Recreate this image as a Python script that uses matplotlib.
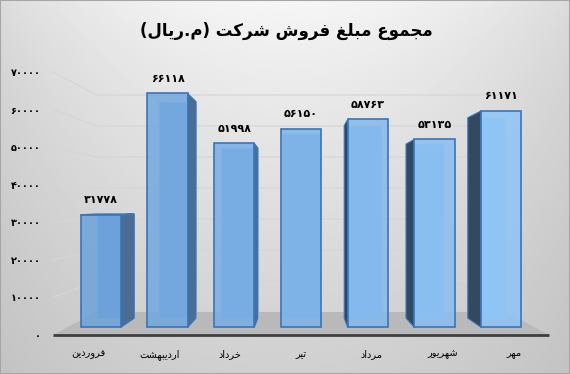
import numpy as np
import matplotlib.pyplot as plt
from matplotlib.patches import Polygon, Rectangle

# Data
months = ['فروردین', 'اردیبهشت', 'خرداد', 'تیر', 'مرداد', 'شهریور', 'مهر']
sales = [31778, 66118, 51998, 56150, 58763, 53135, 61171]
yticks = [0, 10000, 20000, 30000, 40000, 50000, 60000, 70000]
title = 'مجموع مبلغ فروش شرکت (م.ریال)'

# Arabic/Persian letter forms: isolated, final, initial, medial
FORMS = {
    'ا': ('\uFE8D', '\uFE8E', None, None),
    'ب': ('\uFE8F', '\uFE90', '\uFE91', '\uFE92'),
    'ت': ('\uFE95', '\uFE96', '\uFE97', '\uFE98'),
    'ج': ('\uFE9D', '\uFE9E', '\uFE9F', '\uFEA0'),
    'خ': ('\uFEA5', '\uFEA6', '\uFEA7', '\uFEA8'),
    'د': ('\uFEA9', '\uFEAA', None, None),
    'ر': ('\uFEAD', '\uFEAE', None, None),
    'ش': ('\uFEB5', '\uFEB6', '\uFEB7', '\uFEB8'),
    'ع': ('\uFEC9', '\uFECA', '\uFECB', '\uFECC'),
    'غ': ('\uFECD', '\uFECE', '\uFECF', '\uFED0'),
    'ف': ('\uFED1', '\uFED2', '\uFED3', '\uFED4'),
    'ل': ('\uFEDD', '\uFEDE', '\uFEDF', '\uFEE0'),
    'م': ('\uFEE1', '\uFEE2', '\uFEE3', '\uFEE4'),
    'ن': ('\uFEE5', '\uFEE6', '\uFEE7', '\uFEE8'),
    'ه': ('\uFEE9', '\uFEEA', '\uFEEB', '\uFEEC'),
    'و': ('\uFEED', '\uFEEE', None, None),
    'ک': ('\uFB8E', '\uFB8F', '\uFB90', '\uFB91'),
    'ی': ('\uFBFC', '\uFBFD', '\uFBFE', '\uFBFF'),
}


def shape(text):
    out = []
    for i, c in enumerate(text):
        if c not in FORMS:
            out.append(c)
            continue
        prev = text[i - 1] if i > 0 else ''
        nxt = text[i + 1] if i < len(text) - 1 else ''
        jp = prev in FORMS and FORMS[prev][2] is not None
        jn = FORMS[c][2] is not None and nxt in FORMS
        if jp and jn:
            out.append(FORMS[c][3])
        elif jp:
            out.append(FORMS[c][1])
        elif jn:
            out.append(FORMS[c][2])
        else:
            out.append(FORMS[c][0])
    s = ''.join(reversed(out))
    return s.translate(str.maketrans('()', ')('))


def fa_num(v):
    return str(v).translate(str.maketrans('0123456789', '۰۱۲۳۴۵۶۷۸۹'))


fig = plt.figure(figsize=(5.7, 3.74), dpi=100)

# background gradient
bg = fig.add_axes([0, 0, 1, 1], zorder=-10)
yy, xx = np.mgrid[0:1:200j, 0:1:300j]
grad = 0.965 - 0.15 * yy ** 0.8 - 0.10 * (2 * np.abs(xx - 0.5)) ** 2 * (1 - 0.5 * yy)
bg.imshow(grad, cmap='gray', vmin=0, vmax=1, aspect='auto', extent=[0, 1, 0, 1])
bg.add_patch(Rectangle((0, 0), 1, 1, fill=False, ec='#a6a6a6', lw=1.5))
bg.set_axis_off()

ax = fig.add_axes([53 / 570, 39 / 374, 496 / 570, 263 / 374])
ax.set_xlim(-0.5, 6.5)
ax.set_ylim(0, 70000)
ax.patch.set_alpha(0)
for sp in ax.spines.values():
    sp.set_visible(False)

# simple perspective: vanishing point in data units
VX, VY = 3.0, 35000.0
S_BACK = 0.825
S_FRONT, S_REAR = 0.942, 0.872
W = 0.3


def P(x, v, s):
    return (VX + (x - VX) * s, VY + (v - VY) * s)


# floor
ax.add_patch(Polygon([P(-0.5, 0, 1), P(6.5, 0, 1), P(6.5, 0, S_BACK), P(-0.5, 0, S_BACK)],
                     closed=True, fc='#b9b9b9', ec='none', zorder=1, clip_on=False))
# gridlines on back wall and left wall
for t in yticks[1:]:
    xs, ys = zip(P(-0.5, t, 1), P(-0.5, t, S_BACK), P(6.5, t, S_BACK))
    ax.plot(xs, ys, color='#d6d6d6', lw=0.9, zorder=0.5, clip_on=False)
xs, ys = zip(P(-0.5, 0, 1), P(6.5, 0, 1))
ax.plot(xs, ys, color='#3f3f3f', lw=2, zorder=2, clip_on=False, solid_capstyle='butt')

# bars
c_left = np.array([0x6c, 0xa2, 0xd9]) / 255
c_right = np.array([0x8f, 0xc4, 0xf6]) / 255
edge = '#3a74bb'
for i, v in enumerate(sales):
    col = c_left + (c_right - c_left) * i / (len(sales) - 1)
    x0, x1 = i - W, i + W
    front = [P(x0, 0, S_FRONT), P(x1, 0, S_FRONT), P(x1, v, S_FRONT), P(x0, v, S_FRONT)]
    back = [P(x0, 0, S_REAR), P(x1, 0, S_REAR), P(x1, v, S_REAR), P(x0, v, S_REAR)]
    top = [P(x0, v, S_FRONT), P(x1, v, S_FRONT), P(x1, v, S_REAR), P(x0, v, S_REAR)]
    ax.add_patch(Polygon(back, closed=True, fc=col, ec='#9cc6ee', lw=0.8, zorder=3, clip_on=False))
    if i < VX:
        side = [P(x1, 0, S_FRONT), P(x1, 0, S_REAR), P(x1, v, S_REAR), P(x1, v, S_FRONT)]
        ax.add_patch(Polygon(side, closed=True, fc='#4b6d93', ec=edge, lw=0.8, zorder=4, clip_on=False))
    elif i > VX:
        side = [P(x0, 0, S_FRONT), P(x0, 0, S_REAR), P(x0, v, S_REAR), P(x0, v, S_FRONT)]
        ax.add_patch(Polygon(side, closed=True, fc='#33495f', ec=edge, lw=0.8, zorder=4, clip_on=False))
    if v < VY:
        ax.add_patch(Polygon(top, closed=True, fc=col * 0.9 + 0.1, ec=edge, lw=1, zorder=4, clip_on=False))
    ax.add_patch(Polygon(front, closed=True, fc=col, alpha=0.85, ec='none', zorder=5, clip_on=False))
    ax.add_patch(Polygon(front, closed=True, fill=False, ec=edge, lw=1.2, zorder=6, clip_on=False))
    tx, ty = P(i, v, S_FRONT)
    ax.annotate(fa_num(v), (tx, ty), xytext=(0, 7), textcoords='offset points',
                ha='center', va='bottom', fontsize=8, fontweight='bold')

ax.set_yticks(yticks)
ax.set_yticklabels([fa_num(t) for t in yticks], fontsize=7, fontweight='bold')
ax.set_xticks(range(len(months)))
ax.set_xticklabels([shape(m) for m in months], fontsize=7)
ax.tick_params(axis='y', length=0, pad=9)
ax.tick_params(axis='x', length=0, pad=10)

fig.text(0.503, 1 - 31 / 374, shape(title), ha='center', va='center',
         fontsize=12, fontweight='bold')

fig.savefig('out.png', dpi=100)
